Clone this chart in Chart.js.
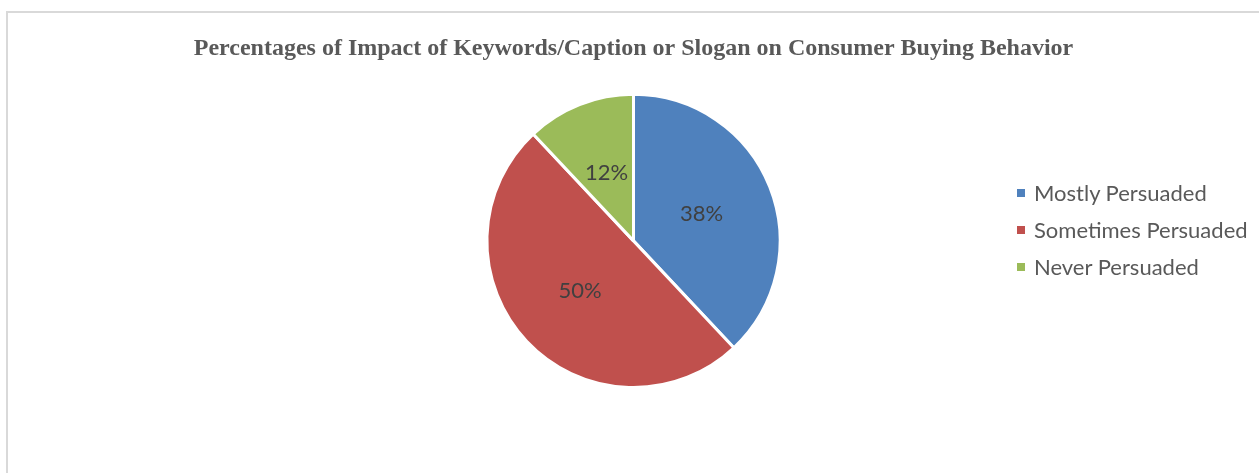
<!DOCTYPE html>
<html>
<head>
<meta charset="utf-8">
<script src="https://cdn.jsdelivr.net/npm/chart.js@4/dist/chart.umd.min.js"></script>
<style>
  html, body { margin: 0; padding: 0; background: #fff; overflow: hidden; }
  #frame {
    position: absolute; left: 6px; top: 11px;
    width: 1400px; height: 600px;
    border: 2px solid #d9d9d9;
  }
  #wrap { position: absolute; left: 0; top: 0; width: 1259px; height: 473px; }
  #legend {
    position: absolute; left: 1017px; top: 174px;
    margin: 0; padding: 0; list-style: none;
    font-family: "Lato", "Open Sans", sans-serif; font-size: 22px; color: #595959;
  }
  #legend li { display: flex; align-items: center; height: 37px; white-space: nowrap; }
  #legend .swatch { width: 8px; height: 8px; margin-right: 9px; flex: none; }
</style>
</head>
<body>
<div id="frame"></div>
<div id="wrap"><canvas id="impact-chart"></canvas></div>
<ul id="legend"></ul>
<script>
const TITLE = 'Percentages of Impact of Keywords/Caption or Slogan on Consumer Buying Behavior';
const CATEGORIES = ['Mostly Persuaded', 'Sometimes Persuaded', 'Never Persuaded'];
const PERCENTAGES = [38, 50, 12];
const SLICE_COLORS = ['#4f81bd', '#c0504d', '#9bbb59'];

const LABEL_FONT = '"Lato", "Open Sans", sans-serif';

// percentage written in the middle of each slice
const sliceLabels = {
  id: 'sliceLabels',
  afterDatasetsDraw(chart) {
    const ctx = chart.ctx;
    const meta = chart.getDatasetMeta(0);
    ctx.save();
    ctx.font = '22px ' + LABEL_FONT;
    ctx.fillStyle = '#404040';
    ctx.textAlign = 'center';
    ctx.textBaseline = 'middle';
    meta.data.forEach((arc, i) => {
      const pos = arc.tooltipPosition();
      ctx.fillText(PERCENTAGES[i] + '%', pos.x, pos.y);
    });
    ctx.restore();
  }
};

// legend list built from the chart's own legend items
const htmlLegend = {
  id: 'htmlLegend',
  afterUpdate(chart) {
    const list = document.getElementById('legend');
    list.innerHTML = '';
    const items = chart.options.plugins.legend.labels.generateLabels(chart);
    items.forEach(item => {
      const li = document.createElement('li');
      const box = document.createElement('span');
      box.className = 'swatch';
      box.style.background = item.fillStyle;
      li.appendChild(box);
      li.appendChild(document.createTextNode(item.text));
      list.appendChild(li);
    });
  }
};

const data = {
  labels: CATEGORIES,
  datasets: [{
    data: PERCENTAGES,
    backgroundColor: SLICE_COLORS,
    borderColor: '#ffffff',
    borderWidth: 3,
  }],
};

const config = {
  type: 'pie',
  data: data,
  options: {
    responsive: true,
    maintainAspectRatio: false,
    animation: false,
    layout: {
      padding: { top: 0, bottom: 84, left: 100, right: 92 },
    },
    plugins: {
      title: {
        display: true,
        text: TITLE,
        color: '#595959',
        font: { family: '"Liberation Serif", "Times New Roman", serif', size: 24, weight: 'bold' },
        padding: { top: 34, bottom: 30 },
      },
      legend: { display: false },
      tooltip: { enabled: false },
    },
  },
  plugins: [sliceLabels, htmlLegend],
};

const canvas = document.getElementById('impact-chart');
new Chart(canvas, config);
</script>
</body>
</html>
